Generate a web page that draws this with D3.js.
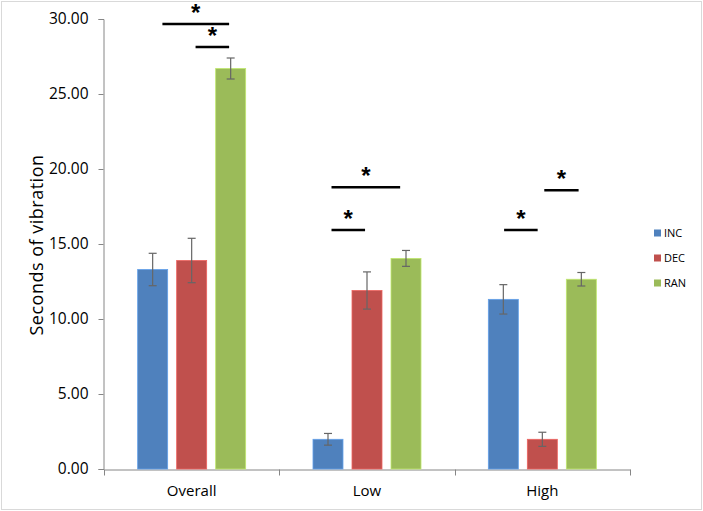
<!DOCTYPE html>
<html>
<head>
<script src="https://d3js.org/d3.v7.min.js"></script>
<title>Seconds of vibration</title>
<style>
  body { margin: 0; background: #fff; }
  svg { display: block; font-family: "Open Sans", sans-serif; }
</style>
</head>
<body>
<div id="chart"></div>
<script>
// chart values
var categories = ["Overall", "Low", "High"];
var series = ["INC", "DEC", "RAN"];
var INC = [13.3, 1.98, 11.31];
var DEC = [13.9, 11.9, 1.98];
var RAN = [26.7, 14.04, 12.65];
var INC_err = [1.08, 0.39, 0.98];
var DEC_err = [1.48, 1.24, 0.47];
var RAN_err = [0.7, 0.53, 0.45];
var yTicks = [0, 5, 10, 15, 20, 25, 30];

// significance brackets: category, from series, to series, level (seconds)
var sigCat = ["Overall", "Overall", "Low", "Low", "High", "High"];
var sigFrom = [0.25, 1.1, 0.09, 0.09, 0.02, 1.05];
var sigTo = [1.96, 1.96, 1.85, 0.95, 0.88, 1.93];
var sigLevel = [29.67, 28.13, 18.78, 15.93, 15.93, 18.58];

var colors = { INC: "#4f81bd", DEC: "#c0504d", RAN: "#9bbb59" };
var values = { INC: INC, DEC: DEC, RAN: RAN };
var errors = { INC: INC_err, DEC: DEC_err, RAN: RAN_err };

var W = 703, H = 511;
var svg = d3.select("#chart").append("svg").attr("width", W).attr("height", H);

// outer frame
svg.append("rect").attr("x", 1.5).attr("y", 1.5).attr("width", W - 3).attr("height", H - 3)
  .attr("fill", "none").attr("stroke", "#d9d9d9");

var x0 = d3.scaleBand().domain(categories).range([104, 630]);
var x1 = d3.scaleBand().domain(series).range([0, x0.bandwidth()])
  .paddingInner(9 / 39).paddingOuter(0.863);
var y = d3.scaleLinear().domain([0, 30]).range([469, 19]);

// y axis
var yAxis = svg.append("g").attr("transform", "translate(103.5,0)")
  .call(d3.axisLeft(y).tickValues(yTicks).tickSize(5).tickPadding(10).tickFormat(d3.format(".2f")));
yAxis.selectAll("path, line").attr("stroke", "#868686");
yAxis.selectAll("text").attr("font-size", 15.5).attr("fill", "#000")
  .attr("font-family", "'Open Sans', sans-serif");

// x axis
var xAxis = svg.append("g").attr("transform", "translate(0,469.5)")
  .call(d3.axisBottom(x0).tickSize(0).tickPadding(16));
xAxis.select(".domain").attr("stroke", "#868686");
xAxis.selectAll("text").attr("font-size", 15).attr("fill", "#000")
  .attr("font-family", "'Open Sans', sans-serif");
var bounds = categories.map(function(c) { return x0(c); }).concat([x0.range()[1]]);
xAxis.selectAll(".bound").data(bounds).enter().append("line")
  .attr("x1", function(d) { return Math.round(d) + 0.5; })
  .attr("x2", function(d) { return Math.round(d) + 0.5; })
  .attr("y1", 0).attr("y2", 6).attr("stroke", "#868686");

// y title
svg.append("text")
  .attr("transform", "translate(43," + ((y(0) + y(30)) / 2 + 1) + ") rotate(-90)")
  .attr("text-anchor", "middle").attr("font-size", 18).attr("letter-spacing", 0.5)
  .text("Seconds of vibration");

// bars
var groups = svg.selectAll(".grp").data(categories).enter().append("g")
  .attr("transform", function(c) { return "translate(" + x0(c) + ",0)"; });

series.forEach(function(s) {
  groups.append("rect")
    .attr("x", function(c, i) { return x1(s); })
    .attr("y", function(c, i) { return y(values[s][i]); })
    .attr("width", x1.bandwidth())
    .attr("height", function(c, i) { return y(0) - y(values[s][i]); })
    .attr("fill", colors[s])
    .attr("stroke", d3.color(colors[s]).brighter(0.6)).attr("stroke-width", 0.8);

  var cx = x1(s) + x1.bandwidth() / 2;
  groups.append("line")
    .attr("x1", cx).attr("x2", cx)
    .attr("y1", function(c, i) { return y(values[s][i] + errors[s][i]); })
    .attr("y2", function(c, i) { return y(values[s][i] - errors[s][i]); })
    .attr("stroke", "#666").attr("stroke-width", 1.2);
  [1, -1].forEach(function(sign) {
    groups.append("line")
      .attr("x1", cx - 4).attr("x2", cx + 4)
      .attr("y1", function(c, i) { return y(values[s][i] + sign * errors[s][i]); })
      .attr("y2", function(c, i) { return y(values[s][i] + sign * errors[s][i]); })
      .attr("stroke", "#666").attr("stroke-width", 1.2);
  });
});

// significance brackets
function seriesX(cat, pos) {
  return x0(cat) + x1(series[0]) + x1.bandwidth() / 2 + pos * x1.step();
}
sigCat.forEach(function(c, i) {
  var xa = seriesX(c, sigFrom[i]), xb = seriesX(c, sigTo[i]), ly = y(sigLevel[i]);
  svg.append("line").attr("x1", xa).attr("x2", xb).attr("y1", ly).attr("y2", ly)
    .attr("stroke", "#000").attr("stroke-width", 2.6);
  svg.append("text").attr("x", (xa + xb) / 2).attr("y", ly - 3)
    .attr("text-anchor", "middle").attr("font-size", 24).attr("font-weight", "bold")
    .attr("font-family", "Liberation Sans, Arial, sans-serif").text("*");
});

// legend
var legend = svg.selectAll(".leg").data(series).enter().append("g")
  .attr("transform", function(s, i) { return "translate(654," + (233 + i * 25) + ")"; });
legend.append("rect").attr("x", 0).attr("y", -3.5).attr("width", 7).attr("height", 7)
  .attr("fill", function(s) { return colors[s]; });
legend.append("text").attr("x", 10).attr("y", 4).attr("font-size", 11)
  .text(function(s) { return s; });
</script>
</body>
</html>
